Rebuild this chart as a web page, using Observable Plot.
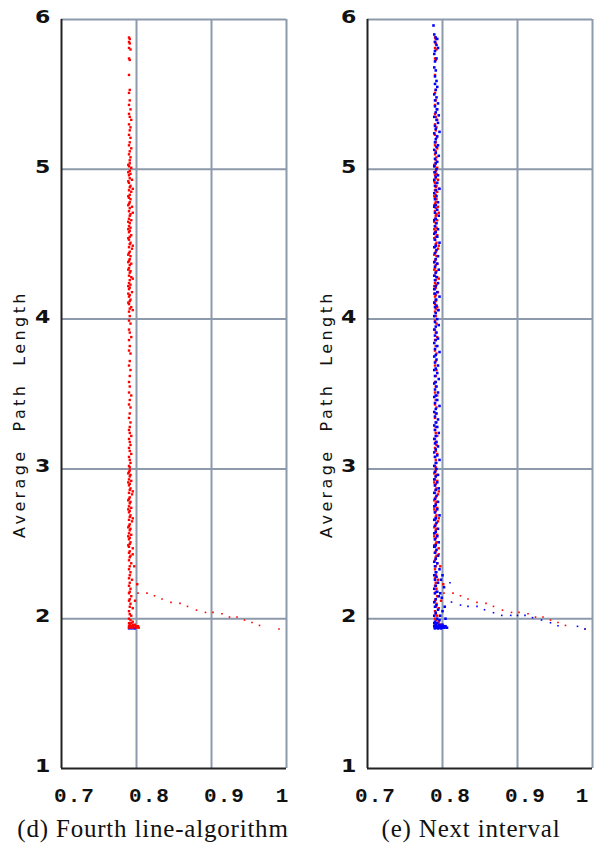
<!DOCTYPE html>
<html>
<head>
<meta charset="utf-8">
<script src="https://cdn.jsdelivr.net/npm/d3@7"></script>
<script src="https://cdn.jsdelivr.net/npm/@observablehq/plot@0.6"></script>
<style>
  html, body { margin: 0; padding: 0; background: #fff; }
  #wrap { position: relative; width: 595px; height: 857px; overflow: hidden; }
  .panel { position: absolute; top: 0; }
  .cap { position: absolute; top: 816px; font-family: "Liberation Serif", serif; font-size: 25px; line-height: 25px;
         letter-spacing: 0.8px; color: #111; white-space: nowrap; transform: translateX(-50%); }
  .ylab { position: absolute; font-family: "DejaVu Sans", sans-serif; font-size: 16px; line-height: 16px; letter-spacing: 3.4px;
          color: #111; white-space: pre; transform: translate(-50%, -50%) rotate(-90deg); }
</style>
</head>
<body>
<div id="wrap"></div>
<script>
// ---- ticks / labels ----
const xTicks = [0.7, 0.8, 0.9, 1];
const yTicks = [1, 2, 3, 4, 5, 6];
const yLabel = "Average  Path  Length";
const captions = ["(d) Fourth line-algorithm", "(e) Next interval"];

// ---- red series (fourth line-algorithm), [connectivity, average path length] ----
const redBand = [
  [0.790,5.88],[0.791,5.87],[0.790,5.85],[0.791,5.84],[0.790,5.81],[0.792,5.80],[0.790,5.74],[0.791,5.73],[0.790,5.63],
  [0.791,5.53],[0.790,5.51],[0.791,5.46],[0.790,5.43],[0.792,5.40],[0.790,5.37],[0.791,5.35],[0.793,5.33],[0.790,5.30],
  [0.792,5.28],[0.791,5.26],[0.790,5.23],[0.792,5.21],[0.791,5.18],[0.790,5.16],[0.793,5.14],[0.791,5.12],[0.790,5.10],
  [0.792,5.08],[0.791,5.06],
  [0.791,5.04],[0.790,5.02],[0.793,5.01],[0.791,4.99],[0.792,4.97],[0.790,4.96],[0.791,4.94],[0.794,4.93],[0.790,4.91],
  [0.792,4.89],[0.791,4.88],[0.790,4.86],[0.793,4.85],[0.791,4.83],[0.790,4.81],[0.792,4.80],[0.791,4.78],[0.790,4.77],
  [0.794,4.75],[0.791,4.74],[0.790,4.72],[0.792,4.70],[0.791,4.69],[0.790,4.67],[0.793,4.66],[0.791,4.64],[0.790,4.62],
  [0.792,4.61],[0.791,4.59],[0.790,4.58],[0.793,4.56],[0.791,4.55],[0.790,4.53],[0.792,4.51],[0.791,4.50],[0.790,4.48],
  [0.794,4.47],[0.791,4.45],[0.790,4.44],[0.792,4.42],[0.791,4.40],[0.790,4.39],[0.793,4.37],[0.791,4.36],[0.790,4.34],
  [0.792,4.32],[0.791,4.31],[0.790,4.29],[0.793,4.28],[0.791,4.26],[0.790,4.24],[0.792,4.23],[0.791,4.21],[0.790,4.20],
  [0.794,4.18],[0.791,4.16],[0.790,4.15],[0.792,4.13],[0.791,4.12],[0.790,4.10],[0.793,4.08],[0.791,4.07],[0.790,4.05],
  [0.789,5.03],[0.789,4.98],[0.789,4.92],[0.795,4.87],[0.789,4.82],[0.789,4.76],[0.795,4.71],[0.789,4.65],[0.789,4.60],
  [0.789,4.54],[0.795,4.49],[0.789,4.43],[0.789,4.38],[0.789,4.33],[0.795,4.27],[0.789,4.22],[0.789,4.17],[0.789,4.11],
  [0.795,4.06],
  [0.791,4.02],[0.790,3.99],[0.792,3.97],[0.790,3.93],[0.791,3.91],[0.793,3.88],[0.790,3.86],[0.791,3.82],[0.790,3.79],
  [0.792,3.77],[0.791,3.72],[0.790,3.69],[0.792,3.66],[0.791,3.62],[0.790,3.58],[0.791,3.55],[0.790,3.51],[0.793,3.49],
  [0.791,3.46],[0.790,3.43],[0.792,3.41],[0.791,3.37],[0.790,3.34],[0.792,3.31],[0.791,3.28],[0.790,3.26],
  [0.791,3.24],[0.793,3.22],[0.790,3.20],[0.791,3.18],[0.792,3.16],[0.790,3.14],[0.791,3.12],[0.793,3.10],[0.790,3.08],
  [0.791,3.06],[0.792,3.04],[0.790,3.02],[0.791,3.01],
  [0.791,2.99],[0.790,2.98],[0.792,2.96],[0.791,2.95],[0.790,2.93],[0.793,2.92],[0.791,2.90],[0.790,2.89],[0.792,2.87],
  [0.791,2.86],[0.790,2.84],[0.794,2.83],[0.791,2.81],[0.790,2.80],[0.792,2.78],[0.791,2.77],[0.790,2.75],[0.793,2.74],
  [0.791,2.72],[0.790,2.71],[0.792,2.69],[0.791,2.68],[0.790,2.66],[0.794,2.65],[0.791,2.63],[0.790,2.62],[0.792,2.60],
  [0.791,2.59],[0.790,2.57],[0.793,2.56],[0.791,2.54],[0.790,2.53],[0.792,2.51],[0.791,2.50],[0.790,2.48],[0.795,2.47],
  [0.791,2.45],[0.790,2.44],[0.792,2.42],[0.791,2.41],
  [0.789,2.97],[0.789,2.91],[0.795,2.85],[0.789,2.79],[0.789,2.73],[0.795,2.67],[0.789,2.61],[0.789,2.55],[0.789,2.49],
  [0.795,2.43],
  [0.790,2.39],[0.793,2.37],[0.791,2.35],[0.790,2.33],[0.792,2.31],[0.791,2.29],[0.790,2.27],[0.794,2.26],[0.791,2.24],
  [0.790,2.22],[0.792,2.20],[0.791,2.18],[0.790,2.17],[0.793,2.15],[0.791,2.13],[0.790,2.12],[0.792,2.10],[0.791,2.08],
  [0.795,2.07],[0.790,2.05],[0.791,2.03],[0.793,2.02],[0.790,2.00],[0.792,1.99],[0.795,1.98],
  [0.801,2.23],[0.797,2.35],[0.798,2.12],
  [0.790,1.97],[0.793,1.97],[0.791,1.96],[0.795,1.96],[0.798,1.96],[0.790,1.95],[0.792,1.95],[0.794,1.95],[0.796,1.95],
  [0.799,1.95],[0.802,1.95],[0.790,1.94],[0.793,1.94],[0.796,1.94],[0.800,1.94],[0.803,1.94]
];
const redTail = [
  [0.802,2.171],[0.814,2.171],[0.824,2.153],[0.834,2.131],[0.846,2.109],[0.858,2.102],[0.868,2.082],[0.880,2.057],
  [0.892,2.042],[0.902,2.042],[0.914,2.033],[0.924,2.011],[0.934,2.011],[0.944,1.991],[0.954,1.975],[0.964,1.955],
  [0.990,1.931]
];

// ---- blue series (next interval) ----
const blueBand = [
  [0.788,5.96],[0.789,5.90],[0.791,5.88],[0.793,5.87],[0.790,5.85],[0.792,5.83],[0.794,5.81],[0.790,5.79],[0.789,5.77],
  [0.792,5.74],[0.790,5.72],[0.789,5.68],[0.791,5.66],[0.790,5.62],[0.792,5.59],[0.790,5.57],[0.793,5.55],[0.791,5.53],
  [0.789,5.50],[0.792,5.48],[0.790,5.46],[0.794,5.44],
  [0.790,5.42],[0.793,5.40],[0.791,5.38],[0.795,5.36],[0.789,5.35],[0.792,5.33],[0.794,5.31],[0.790,5.29],[0.791,5.27],
  [0.796,5.25],[0.789,5.24],[0.793,5.22],[0.791,5.20],[0.790,5.18],[0.794,5.16],[0.792,5.15],[0.789,5.13],[0.791,5.11],
  [0.795,5.09],[0.790,5.07],[0.793,5.05],[0.791,5.04],[0.789,5.02],[0.792,5.00],[0.790,4.98],[0.794,4.96],[0.791,4.95],
  [0.789,4.93],[0.793,4.91],[0.790,4.89],[0.796,4.87],[0.791,4.86],[0.789,4.84],[0.792,4.82],[0.790,4.80],[0.794,4.78],
  [0.791,4.76],[0.789,4.75],[0.793,4.73],[0.790,4.71],[0.795,4.69],[0.791,4.67],[0.789,4.66],[0.792,4.64],[0.790,4.62],
  [0.794,4.60],[0.791,4.58],[0.789,4.57],[0.793,4.55],[0.790,4.53],[0.796,4.51],[0.791,4.49],[0.789,4.48],[0.792,4.46],
  [0.790,4.44],[0.794,4.42],[0.791,4.40],[0.789,4.38],[0.793,4.37],[0.790,4.35],[0.795,4.33],[0.791,4.31],[0.789,4.29],
  [0.792,4.28],[0.790,4.26],[0.794,4.24],[0.791,4.22],[0.789,4.20],[0.793,4.18],[0.790,4.17],[0.796,4.15],[0.791,4.13],
  [0.789,4.11],[0.792,4.09],[0.790,4.08],[0.794,4.06],[0.791,4.04],[0.789,4.02],[0.793,4.00],[0.790,3.98],[0.795,3.96],
  [0.791,3.95],[0.789,3.93],[0.792,3.91],[0.790,3.89],[0.794,3.87],[0.791,3.86],[0.789,3.84],[0.793,3.82],[0.790,3.80],
  [0.796,3.78],[0.791,3.76],[0.789,3.75],[0.792,3.73],[0.790,3.71],[0.794,3.69],[0.791,3.67],[0.789,3.66],[0.793,3.64],
  [0.790,3.62],[0.795,3.60],[0.791,3.58],[0.789,3.57],[0.792,3.55],[0.790,3.53],[0.794,3.51],[0.791,3.49],[0.789,3.48],
  [0.793,3.46],[0.790,3.44],[0.796,3.42],[0.791,3.40],[0.789,3.38],[0.792,3.37],[0.790,3.35],[0.794,3.33],[0.791,3.31],
  [0.789,3.29],[0.793,3.28],[0.790,3.26],[0.795,3.24],[0.791,3.22],[0.789,3.20],[0.792,3.18],[0.790,3.17],[0.794,3.15],
  [0.791,3.13],[0.789,3.11],[0.793,3.09],[0.790,3.08],[0.796,3.06],[0.791,3.04],[0.789,3.02],[0.792,3.00],[0.790,2.98],
  [0.794,2.96],[0.791,2.95],[0.789,2.93],[0.793,2.91],[0.790,2.89],[0.795,2.87],[0.791,2.86],[0.789,2.84],[0.792,2.82],
  [0.790,2.80],[0.794,2.78],[0.791,2.76],[0.789,2.75],[0.793,2.73],[0.790,2.71],[0.796,2.69],[0.791,2.67],[0.789,2.66],
  [0.792,2.64],[0.790,2.62],[0.794,2.60],[0.791,2.58],[0.789,2.57],[0.793,2.55],[0.790,2.53],[0.795,2.51],[0.791,2.49],
  [0.789,2.48],[0.792,2.46],[0.790,2.44],[0.794,2.42],[0.791,2.40],[0.789,2.38],[0.793,2.37],[0.790,2.35],[0.796,2.33],
  [0.791,2.31],[0.789,2.29],[0.792,2.28],[0.790,2.26],[0.794,2.24],[0.791,2.22],[0.789,2.20],[0.793,2.18],[0.790,2.17],
  [0.795,2.15],[0.791,2.13],[0.789,2.11],[0.792,2.09],[0.790,2.08],[0.794,2.06],[0.791,2.04],[0.789,2.02],[0.793,2.00],
  [0.796,1.99],[0.790,1.98],
  [0.800,2.29],[0.798,2.26],[0.802,2.21],[0.797,2.17],[0.799,2.14],[0.803,2.08],[0.800,2.05],[0.797,2.02],[0.804,2.00],
  [0.789,1.97],[0.793,1.97],[0.791,1.96],[0.796,1.96],[0.800,1.96],[0.789,1.95],[0.792,1.95],[0.795,1.95],[0.798,1.95],
  [0.801,1.95],[0.804,1.95],[0.790,1.94],[0.793,1.94],[0.796,1.94],[0.799,1.94],[0.802,1.94],[0.806,1.94],
  [0.790,1.935],[0.794,1.935],[0.798,1.935]
];
const blueTail = [
  [0.810,2.240],[0.812,2.111],[0.824,2.091],[0.834,2.082],[0.846,2.082],[0.856,2.060],[0.868,2.040],[0.879,2.022],
  [0.891,2.022],[0.900,2.022],[0.910,2.022],[0.920,2.007],[0.932,1.991],[0.944,1.973],[0.954,1.953],[0.980,1.949],
  [0.990,1.931]
];
// blue points of the first panel (hidden under the red cluster except its lower edge)
const blueLeft = [[0.790,1.935],[0.793,1.935],[0.796,1.935],[0.798,1.935]];

const RED = "#ff0000", BLUE = "#0000ff", GRID = "#8d9aab", AXIS = "#222";

function dots(data, color, r) {
  return Plot.dot(data, {x: d => d[0], y: d => d[1], symbol: "square", r: r, fill: color, stroke: "none"});
}

function panel({layers, marginLeft, marginRight, width, xdx, lastDx}) {
  return Plot.plot({
    width, height: 810,
    marginLeft, marginRight, marginTop: 19, marginBottom: 42,
    style: {background: "transparent", overflow: "visible"},
    x: {domain: [0.7, 1]},
    y: {domain: [1, 6]},
    marks: [
      Plot.gridX([0.8, 0.9, 1], {stroke: GRID, strokeOpacity: 1, strokeWidth: 2}),
      Plot.gridY([2, 3, 4, 5, 6], {stroke: GRID, strokeOpacity: 1, strokeWidth: 2}),
      ...layers,
      Plot.ruleX([0.7], {stroke: AXIS, strokeWidth: 2}),
      Plot.ruleY([1], {stroke: AXIS, strokeWidth: 2}),
      Plot.axisY(yTicks, {tickSize: 0, tickPadding: 11, label: null, dy: -2, tickFormat: d => String(d), fill: "#111"}),
      Plot.axisX(xTicks.slice(0, 3), {tickSize: 0, tickPadding: 19, label: null, dx: xdx, tickFormat: d => String(d), fill: "#111"}),
      Plot.axisX(xTicks.slice(3), {tickSize: 0, tickPadding: 19, label: null, dx: lastDx, tickFormat: d => String(d), fill: "#111"})
    ]
  });
}

// give the tick labels their fonts (inline styles on the rendered text)
function styleTicks(svg) {
  const top = svg.getBoundingClientRect().top;
  svg.querySelectorAll("text").forEach(t => {
    const s = t.textContent.trim();
    const r = t.getBoundingClientRect();
    if (r.top - top > 775) {
      t.setAttribute("style", 'font-family: "Liberation Mono", monospace; font-size: 21px; font-weight: bold; letter-spacing: 1px;');
    } else if (/^[1-6]$/.test(s)) {
      t.setAttribute("style", 'font-family: "DejaVu Sans", sans-serif; font-size: 17px; font-weight: bold;');
      const tr = t.getAttribute("transform") || "";
      t.setAttribute("transform", tr + " scale(1.3,1)");
    }
  });
}

const wrap = document.getElementById("wrap");

const left = panel({
  width: 300, marginLeft: 61, marginRight: 14, xdx: 13, lastDx: -4,
  layers: [dots(blueLeft, BLUE, 1.3), dots(redBand, RED, 1.35), dots(redTail, RED, 0.9)]
});
left.classList.add("panel");
left.style.left = "0px";
wrap.appendChild(left);
styleTicks(left);

const right = panel({
  width: 295, marginLeft: 67, marginRight: 3, xdx: 8, lastDx: -10,
  layers: [dots(redBand, RED, 1.35), dots(redTail, RED, 0.9), dots(blueBand, BLUE, 1.45), dots(blueTail, BLUE, 0.9)]
});
right.classList.add("panel");
right.style.left = "300px";
wrap.appendChild(right);
styleTicks(right);

// y-axis titles
[20, 327].forEach(cx => {
  const l = document.createElement("div");
  l.className = "ylab";
  l.style.left = cx + "px";
  l.style.top = "414px";
  l.textContent = yLabel;
  wrap.appendChild(l);
});

const capPos = [153, 471];
captions.forEach((t, i) => {
  const c = document.createElement("div");
  c.className = "cap";
  c.style.left = capPos[i] + "px";
  c.textContent = t;
  wrap.appendChild(c);
});
</script>
</body>
</html>
